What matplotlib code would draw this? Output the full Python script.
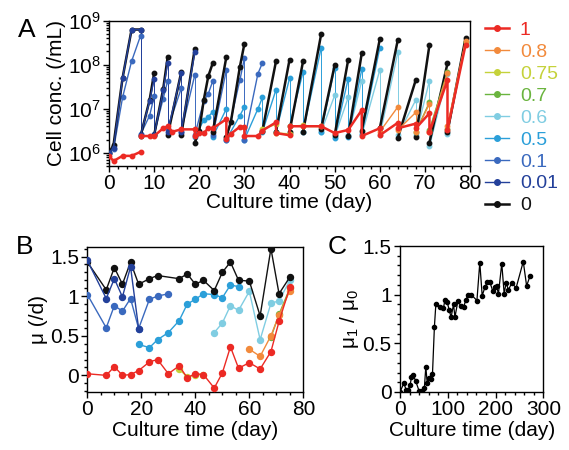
import matplotlib
matplotlib.use('Agg')
import matplotlib.pyplot as plt
from matplotlib.lines import Line2D
from matplotlib.ticker import MultipleLocator, LogLocator, NullFormatter

plt.rcParams['font.family'] = ['Liberation Sans', 'DejaVu Sans']
plt.rcParams['mathtext.fontset'] = 'custom'
plt.rcParams['mathtext.rm'] = 'Liberation Sans'
plt.rcParams['mathtext.it'] = 'Liberation Sans:italic'

ratios = ['1', '0.8', '0.75', '0.7', '0.6', '0.5', '0.1', '0.01', '0']
colors = ['#ec2a24', '#f28a3c', '#c5d23a', '#6ab43e', '#80cde2',
          '#2b9fd9', '#3a69be', '#23409a', '#111111']

# panel A: passages, (days, cell conc in 1e6 /mL)
a_1 = [
    ([0, 1, 3, 5, 7], [0.84, 0.65, 0.85, 0.85, 1.05]),
    ([7, 9, 10, 12, 13, 14, 16, 19, 19, 20, 21, 22, 23, 26, 26, 27, 29, 30, 30, 33,
      34, 37, 37, 40, 40, 43, 47, 50, 53, 56, 56, 60, 60, 64, 64, 68, 68, 71, 71, 75,
      75, 79],
     [2.4, 2.4, 2.4, 3.6, 4.0, 3.0, 3.4, 3.4, 2.4, 2.8, 2.8, 3.6, 3.6, 5.8, 2.1, 2.7,
      3.9, 3.9, 2.4, 2.4, 3.2, 4.9, 2.8, 2.5, 4.0, 4.0, 4.0, 2.8, 3.3, 9.3, 2.4, 3.6,
      2.5, 4.8, 3.6, 4.6, 3.6, 7.9, 2.9, 45, 3.3, 280]),
]
a_08 = [
    ([60, 64], [3.0, 11]),
    ([64, 68], [3.3, 8.3]),
    ([68, 71], [3.0, 13]),
    ([71, 75], [3.0, 65]),
    ([75, 79], [4.1, 350]),
]
a_075 = [
    ([34, 37], [3.5, 4.4]),
    ([37, 40], [2.8, 2.7]),
    ([40, 43], [4.0, 4.2]),
    ([43, 47], [4.1, 4.1]),
]
a_07 = [
    ([68, 71], [3.0, 14]),
    ([71, 75], [3.3, 69]),
    ([75, 79], [3.5, 330]),
]
a_06 = [
    ([47, 50], [3.0, 20]),
    ([50, 53], [2.3, 18]),
    ([53, 56], [2.5, 43]),
    ([56, 60], [2.5, 76]),
    ([60, 64], [2.5, 190]),
    ([64, 68], [2.5, 16]),
    ([68, 71], [2.5, 43]),
    ([71, 75], [1.4, 60]),
    ([75, 79], [2.7, 330]),
]
a_05 = [
    ([19, 21, 22, 23], [2.3, 5.5, 6.6, 8.5]),
    ([23, 26], [2.3, 10]),
    ([26, 29, 30], [2.0, 7.0, 11]),
    ([30, 33, 34], [2.0, 10, 18]),
    ([34, 37], [3.0, 27]),
    ([37, 40], [3.0, 49]),
    ([40, 43], [4.0, 69]),
    ([43, 47], [3.0, 240]),
    ([47, 50], [3.0, 83]),
    ([50, 53], [2.2, 48]),
    ([53, 56], [2.3, 78]),
    ([56, 60], [2.6, 240]),
]
a_01 = [
    ([0, 1, 3, 5, 7], [1.0, 1.2, 18, 120, 460]),
    ([7, 9, 10], [2.6, 7.0, 19]),
    ([10, 12, 13], [2.6, 17, 43]),
    ([13, 16], [3.5, 29]),
    ([16, 19], [3.0, 58]),
    ([19, 21, 22, 23], [2.5, 15, 22, 43]),
    ([23, 26], [2.5, 75]),
    ([26, 29, 30], [2.0, 45, 140]),
    ([30, 33, 34], [2.0, 63, 110]),
]
a_001 = [
    ([0, 1, 3, 5, 7], [1.0, 1.3, 50, 630, 630]),
    ([7, 9, 10], [2.5, 15, 48]),
    ([10, 12, 13], [2.5, 26, 110]),
    ([13, 16], [3.0, 65]),
    ([16, 19], [3.0, 190]),
]
a_0 = [
    ([0, 1, 3, 5, 7], [1.0, 1.5, 50, 630, 630]),
    ([7, 9, 10], [2.4, 16, 65]),
    ([10, 12, 13], [2.5, 28, 150]),
    ([13, 16], [2.5, 68]),
    ([16, 19], [2.5, 230]),
    ([19, 20, 21, 22, 23], [1.7, 3.2, 16, 55, 110]),
    ([23, 26], [3.0, 150]),
    ([26, 27, 29, 30], [2.3, 5.0, 90, 300]),
    ([34, 37], [3.2, 120]),
    ([37, 40], [3.0, 130]),
    ([40, 43], [3.0, 120]),
    ([43, 47], [3.0, 490]),
    ([47, 50], [3.5, 98]),
    ([50, 53], [2.5, 130]),
    ([53, 56], [2.4, 180]),
    ([56, 60], [3.2, 380]),
    ([60, 64], [3.6, 370]),
    ([64, 68], [2.2, 46]),
    ([68, 71], [2.3, 280]),
    ([71, 75], [1.7, 107]),
    ([75, 79], [3.0, 400]),
]

# panel B: growth rate (/d) per passage start day
b_1_days = [0, 7, 10, 13, 16, 19, 23, 26, 30, 34, 37, 40, 43, 47, 50, 53, 56, 60, 64, 68, 71, 75]
b_1 = [0.02, 0.0, 0.11, 0.0, 0.01, 0.06, 0.17, 0.2, 0.02, 0.12, -0.03, 0.02, 0.01, -0.16,
       0.03, 0.36, 0.09, 0.16, 0.08, 0.3, 0.68, 1.11]
b_08_days = [60, 64, 68, 71, 75]
b_08 = [0.33, 0.24, 0.5, 0.76, 1.07]
b_075_days = [34, 37, 40, 43]
b_075 = [0.08, -0.02, 0.01, 0.01]
b_07_days = [68, 71, 75]
b_07 = [0.48, 0.77, 1.1]
b_06_days = [47, 50, 53, 56, 60, 64, 68, 71, 75]
b_06 = [0.54, 0.66, 0.88, 0.82, 1.06, 0.45, 0.91, 0.94, 1.2]
b_05_days = [19, 23, 26, 30, 34, 37, 40, 43, 47, 50, 53, 56]
b_05 = [0.39, 0.35, 0.45, 0.54, 0.69, 0.9, 0.96, 1.03, 1.02, 0.98, 1.14, 1.12]
b_01_days = [0, 7, 10, 13, 16, 19, 23, 26, 30]
b_01 = [1.02, 0.6, 0.88, 0.81, 0.97, 0.59, 0.96, 1.0, 1.03]
b_001_days = [0, 7, 10, 13, 16, 19]
b_001 = [1.45, 0.97, 1.22, 0.99, 1.37, 0.59]
b_0_days = [0, 7, 10, 13, 16, 19, 23, 26, 34, 37, 40, 43, 47, 50, 53, 56, 60, 64, 68, 71, 75]
b_0 = [1.43, 1.08, 1.36, 1.15, 1.43, 1.15, 1.22, 1.26, 1.22, 1.28, 1.15, 1.2, 1.07, 1.3,
       1.43, 1.2, 1.19, 0.75, 1.6, 1.03, 1.24]

# panel C: mu1 / mu0 over the long culture
c_days = [0, 8, 13, 17, 21, 24, 28, 33, 40, 45, 51, 54, 57, 61, 64, 68, 72, 75, 84, 91,
          94, 99, 103, 107, 112, 115, 121, 128, 133, 138, 143, 149, 161, 167, 172, 178,
          183, 188, 194, 199, 202, 206, 213, 218, 222, 227, 234, 243, 258, 265, 272]
c_ratio = [0.0, 0.09, 0.02, 0.02, 0.07, 0.15, 0.17, 0.11, 0.01, 0.01, 0.04, 0.26, 0.09,
           0.14, 0.13, 0.19, 0.67, 0.9, 0.87, 0.86, 0.95, 0.92, 0.84, 0.77, 0.9, 0.77,
           0.93, 0.88, 0.87, 0.95, 1.0, 1.0, 0.94, 1.33, 0.99, 1.08, 1.13, 1.13, 1.04,
           1.08, 1.09, 1.01, 1.32, 1.01, 1.12, 1.05, 1.12, 1.07, 1.34, 1.09, 1.19]

a_series = [a_1, a_08, a_075, a_07, a_06, a_05, a_01, a_001, a_0]
b_series = [(b_1_days, b_1), (b_08_days, b_08), (b_075_days, b_075), (b_07_days, b_07),
            (b_06_days, b_06), (b_05_days, b_05), (b_01_days, b_01),
            (b_001_days, b_001), (b_0_days, b_0)]

fig = plt.figure(figsize=(5.69, 4.5), dpi=100)
axA = fig.add_axes([0.1916, 0.6311, 0.6345, 0.3229])
axB = fig.add_axes([0.1535, 0.1289, 0.3796, 0.3222])
axC = fig.add_axes([0.703, 0.1289, 0.2519, 0.3244])

for ax in (axA, axB, axC):
    for s in ax.spines.values():
        s.set_linewidth(1.0)
    ax.tick_params(which='both', direction='out', width=1.0, labelsize=15, pad=2)
    ax.tick_params(which='major', length=4)
    ax.tick_params(which='minor', length=2.5)
    ax.tick_params(top=False, right=False)

# draw order in A
order = [4, 5, 6, 8, 7, 2, 3, 1, 0]
for i in order:
    segs = a_series[i]
    col = colors[i]
    thick = i in (0, 8)
    lw = 1.8 if thick else 1.0
    for d, c in segs:
        axA.plot(d, [v * 1e6 for v in c], '-o', color=col, lw=lw, ms=3.2, zorder=3)
    if not thick:
        for (d0, c0), (d1, c1) in zip(segs[:-1], segs[1:]):
            axA.plot([d0[-1], d1[0]], [c0[-1] * 1e6, c1[0] * 1e6], '-', color=col,
                     lw=0.7, zorder=2)

axA.set_yscale('log')
axA.set_xlim(0, 80)
axA.set_ylim(5e5, 1e9)
axA.set_yticks([1e6, 1e7, 1e8, 1e9])
axA.yaxis.set_minor_locator(LogLocator(base=10, subs=range(2, 10)))
axA.yaxis.set_minor_formatter(NullFormatter())
axA.xaxis.set_major_locator(MultipleLocator(10))
axA.xaxis.set_minor_locator(MultipleLocator(2))
axA.set_xlabel('Culture time (day)', fontsize=15, labelpad=0)
axA.set_ylabel('Cell conc. (/mL)', fontsize=15, labelpad=1)

for i in order:
    d, v = b_series[i]
    axB.plot(d, v, '-o', color=colors[i], lw=1.0, ms=4.3, zorder=3)
axB.set_xlim(0, 80)
axB.set_ylim(-0.21, 1.62)
axB.set_yticks([0, 0.5, 1, 1.5])
axB.set_yticklabels(['0', '0.5', '1', '1.5'])
axB.yaxis.set_minor_locator(MultipleLocator(0.1))
axB.xaxis.set_major_locator(MultipleLocator(20))
axB.xaxis.set_minor_locator(MultipleLocator(5))
axB.set_xlabel('Culture time (day)', fontsize=15, labelpad=1)
axB.set_ylabel('μ (/d)', fontsize=15, labelpad=1)

axC.plot(c_days, c_ratio, '-o', color='black', lw=0.9, ms=3.0)
axC.set_xlim(0, 300)
axC.set_ylim(0, 1.5)
axC.set_yticks([0, 0.5, 1, 1.5])
axC.set_yticklabels(['0', '0.5', '1', '1.5'])
axC.yaxis.set_minor_locator(MultipleLocator(0.1))
axC.xaxis.set_major_locator(MultipleLocator(100))
axC.xaxis.set_minor_locator(MultipleLocator(20))
axC.set_xlabel('Culture time (day)', fontsize=15, labelpad=1)
axC.set_ylabel(r'μ$_\mathregular{1}$ / μ$_\mathregular{0}$', fontsize=15, labelpad=1)

handles = [Line2D([], [], color=colors[i], lw=1.8 if i in (0, 8) else 1.0, marker='o',
                  ms=4) for i in range(len(ratios))]
fig.legend(handles, ratios, loc='upper left', bbox_to_anchor=(0.852, 0.952),
           frameon=False, fontsize=14, handlelength=1.25, handletextpad=0.55,
           labelspacing=0.22, borderpad=0, borderaxespad=0, labelcolor='linecolor')

fig.text(0.047, 0.933, 'A', fontsize=19, ha='center', va='center')
fig.text(0.044, 0.451, 'B', fontsize=19, ha='center', va='center')
fig.text(0.592, 0.451, 'C', fontsize=19, ha='center', va='center')

fig.savefig('out.png', dpi=100)
